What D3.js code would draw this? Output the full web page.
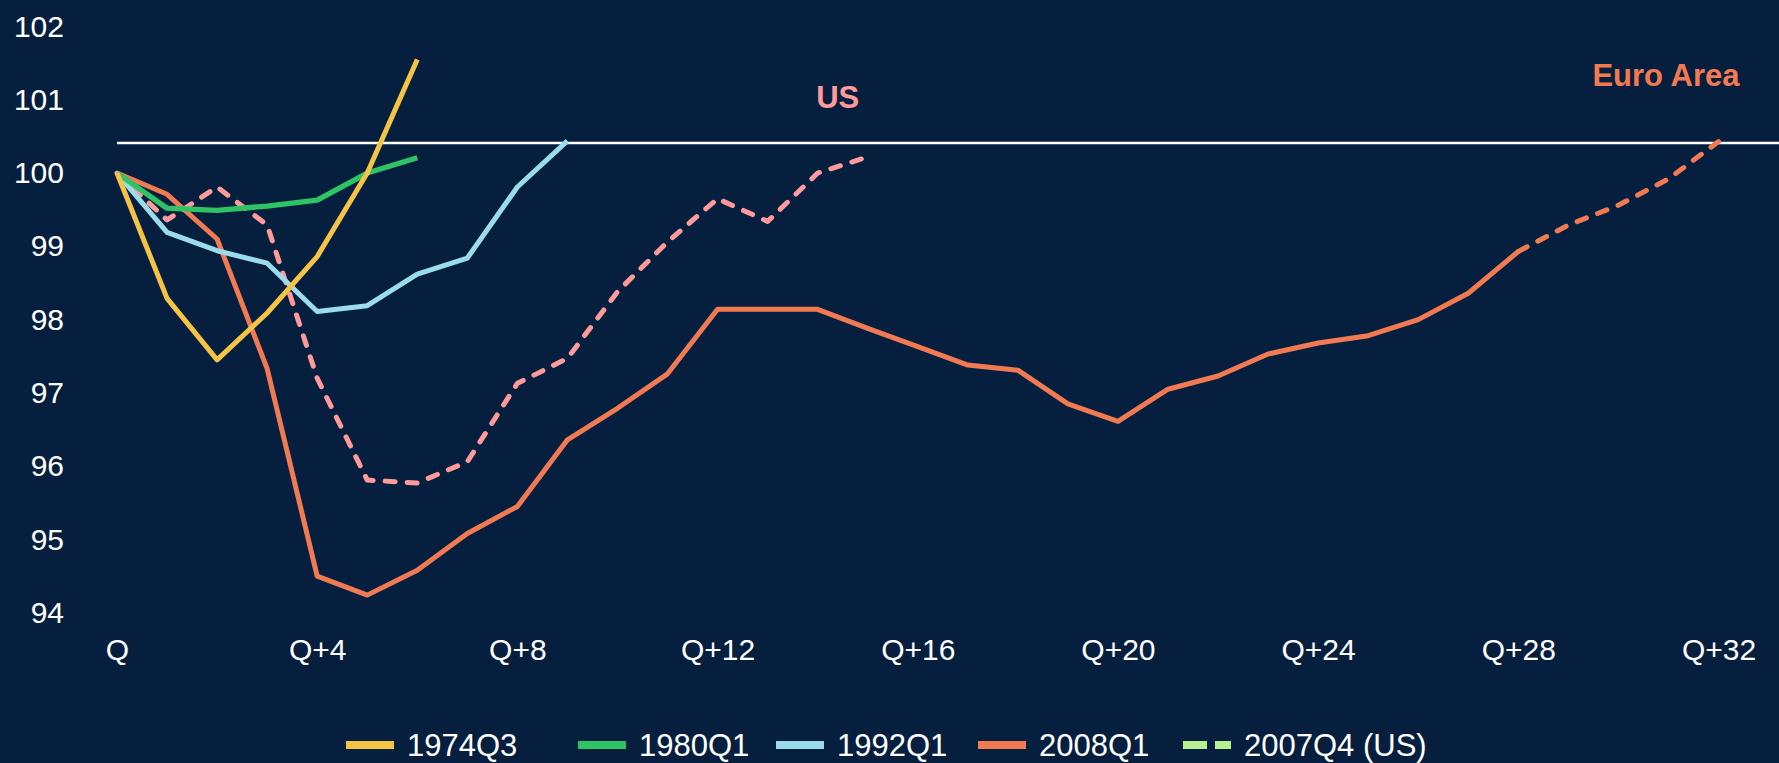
<!DOCTYPE html>
<html>
<head>
<meta charset="utf-8">
<script src="https://cdn.jsdelivr.net/npm/d3@7"></script>
<style>
  html, body { margin: 0; padding: 0; background: #071f3e; }
  svg { display: block; font-family: "Liberation Sans", Arial, sans-serif; }
</style>
</head>
<body>
<svg width="1779" height="763"></svg>
<script>
// quarters after the start of each recession, index = quarter
var quarterTicks = [0, 4, 8, 12, 16, 20, 24, 28, 32];
var yTicks = [94, 95, 96, 97, 98, 99, 100, 101, 102];

var s1974Q3 = [100, 98.29, 97.45, 98.09, 98.86, 100.0, 101.55];
var s1980Q1 = [100, 99.52, 99.49, 99.55, 99.63, 100.0, 100.21];
var s1992Q1 = [100, 99.19, 98.94, 98.77, 98.11, 98.19, 98.62, 98.84, 99.81, 100.44];
var s2008Q1 = [100, 99.71, 99.10, 97.33, 94.50, 94.24, 94.58, 95.08, 95.45, 96.36,
               96.79, 97.26, 98.14, 98.14, 98.14, 97.88, 97.63, 97.38, 97.31, 96.85,
               96.61, 97.05, 97.23, 97.53, 97.68, 97.78, 98.00, 98.36, 98.93];
var euroForecastStart = 28;
var euroForecast = [98.93, 99.29, 99.56, 99.92, 100.43];
var s2007Q4US = [100, 99.36, 99.81, 99.29, 97.2, 95.81, 95.77, 96.06, 97.13, 97.47,
                 98.38, 99.06, 99.65, 99.34, 100.0, 100.22];
var preCrisisPeak = 100.41;

var legendNames = ["1974Q3", "1980Q1", "1992Q1", "2008Q1", "2007Q4 (US)"];
var legendColors = ["#f6c445", "#2ec464", "#9adcec", "#f27a52", "#b8f08f"];

window.onload = function() {
  var svg = d3.select("svg");
  var W = +svg.attr("width");

  var x = d3.scaleLinear().domain([0, 32]).range([117, 1718.5]);
  var y = d3.scaleLinear().domain([94, 102]).range([612.7, 26.5]);

  var line = d3.line()
    .x(function(d) { return x(d.q); })
    .y(function(d) { return y(d.v); });

  function pts(arr, start) {
    start = start || 0;
    return arr.map(function(v, i) { return {q: i + start, v: v}; });
  }

  // y axis labels
  var yAxis = svg.append("g")
    .attr("transform", "translate(64,0)")
    .call(d3.axisLeft(y).tickValues(yTicks).tickSize(0).tickPadding(0));
  yAxis.select(".domain").remove();
  yAxis.selectAll("text")
    .attr("fill", "#fff")
    .attr("font-size", 30)
    .attr("font-family", "Liberation Sans, Arial, sans-serif");

  // x axis labels
  var xAxis = svg.append("g")
    .attr("transform", "translate(0,639)")
    .call(d3.axisBottom(x).tickValues(quarterTicks).tickSize(0).tickPadding(0)
      .tickFormat(function(d) { return d === 0 ? "Q" : "Q+" + d; }));
  xAxis.select(".domain").remove();
  xAxis.selectAll("text")
    .attr("fill", "#fff")
    .attr("font-size", 30)
    .attr("font-family", "Liberation Sans, Arial, sans-serif");

  // pre-crisis peak line
  svg.append("line")
    .attr("x1", x(0)).attr("x2", W)
    .attr("y1", y(preCrisisPeak)).attr("y2", y(preCrisisPeak))
    .attr("stroke", "#fff")
    .attr("stroke-width", 2.5);

  var g = svg.append("g")
    .attr("fill", "none")
    .attr("stroke-linejoin", "round");

  g.append("path").datum(pts(s2008Q1)).attr("d", line)
    .attr("stroke", legendColors[3]).attr("stroke-width", 5);
  g.append("path").datum(pts(euroForecast, euroForecastStart)).attr("d", line)
    .attr("stroke", legendColors[3]).attr("stroke-width", 5)
    .attr("stroke-dasharray", "10,12").attr("stroke-linecap", "round");
  g.append("path").datum(pts(s2007Q4US)).attr("d", line)
    .attr("stroke", "#ff9a9a").attr("stroke-width", 5)
    .attr("stroke-dasharray", "10,12").attr("stroke-linecap", "round");
  g.append("path").datum(pts(s1992Q1)).attr("d", line)
    .attr("stroke", legendColors[2]).attr("stroke-width", 5);
  g.append("path").datum(pts(s1980Q1)).attr("d", line)
    .attr("stroke", legendColors[1]).attr("stroke-width", 5.3);
  g.append("path").datum(pts(s1974Q3)).attr("d", line)
    .attr("stroke", legendColors[0]).attr("stroke-width", 5);

  // annotations
  svg.append("text")
    .attr("x", x(14.4)).attr("y", y(101.04))
    .attr("dy", "0.35em")
    .attr("text-anchor", "middle")
    .attr("font-size", 31).attr("font-weight", "bold")
    .attr("fill", "#ff9a9a")
    .text("US");
  svg.append("text")
    .attr("x", x(30.95)).attr("y", y(101.33))
    .attr("dy", "0.35em")
    .attr("text-anchor", "middle")
    .attr("font-size", 31).attr("font-weight", "bold")
    .attr("fill", legendColors[3])
    .text("Euro Area");

  // legend
  var legendX = [346, 578, 776, 978, 1183];
  var legend = svg.append("g")
    .selectAll("g")
    .data(legendNames)
    .enter().append("g")
    .attr("transform", function(d, i) { return "translate(" + legendX[i] + ",745)"; });

  legend.append("line")
    .attr("x1", 0).attr("x2", 48)
    .attr("stroke", function(d, i) { return legendColors[i]; })
    .attr("stroke-width", 8)
    .attr("stroke-dasharray", function(d, i) { return i === 4 ? "24,8" : null; });

  legend.append("text")
    .attr("x", 61)
    .attr("dy", "0.36em")
    .attr("fill", "#fff")
    .attr("font-size", 31)
    .text(function(d) { return d; });
};
</script>
</body>
</html>
